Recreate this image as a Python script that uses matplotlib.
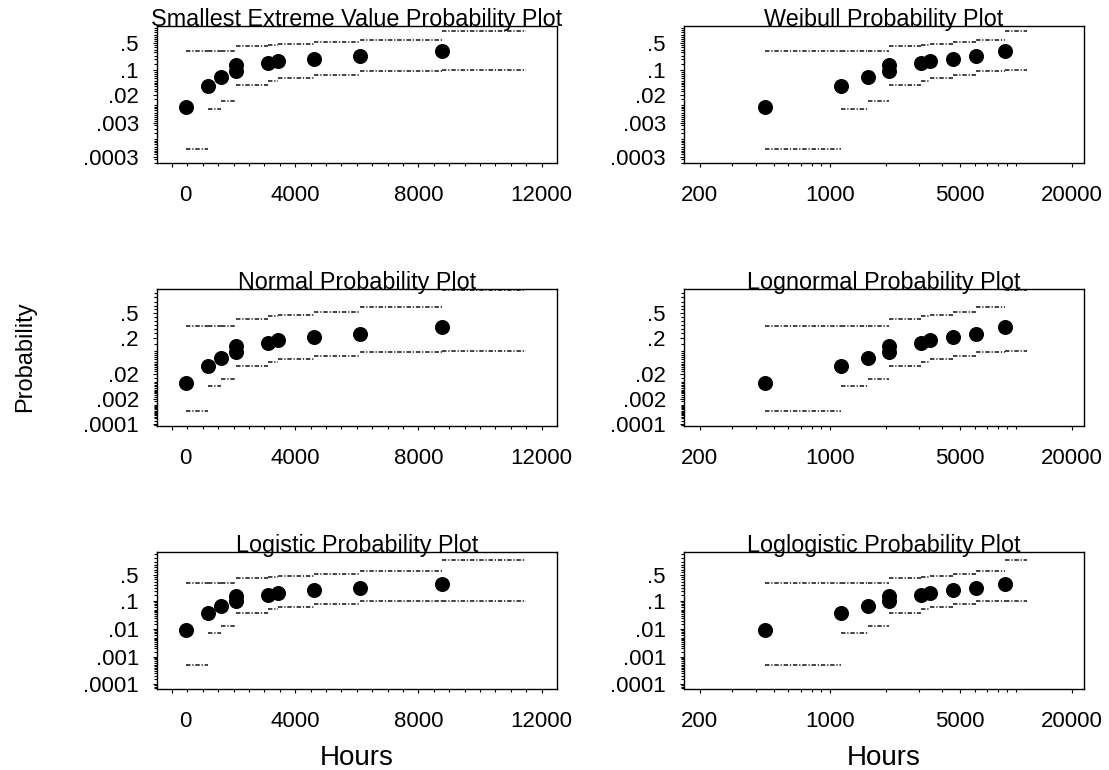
import math
import numpy as np
import matplotlib
matplotlib.use("Agg")
import matplotlib.pyplot as plt
from matplotlib.ticker import FixedLocator, FixedFormatter, NullFormatter

plt.rcParams["font.family"] = ["Liberation Sans", "DejaVu Sans"]
plt.rcParams["lines.scale_dashes"] = False

# Failure times (hours) and their plotting positions
hours = [450, 1150, 1600, 2070, 2080, 3100, 3450, 4600, 6100, 8750]
prob = [0.009, 0.037, 0.066, 0.097, 0.137, 0.157, 0.180, 0.209, 0.245, 0.320]

# Simultaneous confidence band, one step per interval
band_start = [450, 1150, 1600, 2070, 3100, 3450, 4600, 6100, 8750]
band_end = [1150, 1600, 2070, 3100, 3450, 4600, 6100, 8750, 11500]
band_lower = [0.0005, 0.0074, 0.013, 0.038, 0.051, 0.060, 0.075, 0.095, 0.100]
band_upper = [0.33, 0.33, 0.33, 0.42, 0.455, 0.48, 0.52, 0.575, 0.78]

# Probability tick labels for each distribution family
sev_ticks = [0.0003, 0.003, 0.02, 0.1, 0.5]
sev_labels = [".0003", ".003", ".02", ".1", ".5"]
norm_ticks = [0.0001, 0.002, 0.02, 0.2, 0.5]
norm_labels = [".0001", ".002", ".02", ".2", ".5"]
logis_ticks = [0.0001, 0.001, 0.01, 0.1, 0.5]
logis_labels = [".0001", ".001", ".01", ".1", ".5"]

lin_ticks = [0, 4000, 8000, 12000]
lin_labels = ["0", "4000", "8000", "12000"]
log_ticks = [200, 1000, 5000, 20000]
log_labels = ["200", "1000", "5000", "20000"]

EPS = 1e-12


def _clip(p):
    return np.clip(np.asarray(p, dtype=float), EPS, 1 - EPS)


# --- smallest extreme value / Weibull scale
def sev_fwd(p):
    p = _clip(p)
    return np.log(-np.log1p(-p))


def sev_inv(y):
    return -np.expm1(-np.exp(np.asarray(y, dtype=float)))


# --- normal / lognormal scale (Acklam's inverse normal approximation)
_a = [-3.969683028665376e+01, 2.209460984245205e+02, -2.759285104469687e+02,
      1.383577518672690e+02, -3.066479806614716e+01, 2.506628277459239e+00]
_b = [-5.447609879822406e+01, 1.615858368580409e+02, -1.556989798598866e+02,
      6.680131188771972e+01, -1.328068155288572e+01]
_c = [-7.784894002430293e-03, -3.223964580411365e-01, -2.400758277161838e+00,
      -2.549732539343734e+00, 4.374664141464968e+00, 2.938163982698783e+00]
_d = [7.784695709041462e-03, 3.224671290700398e-01, 2.445134137142996e+00,
      3.754408661907416e+00]


def norm_fwd(p):
    p = _clip(p)
    plow = 0.02425
    r = p - 0.5
    r2 = r * r
    num = (((((_a[0] * r2 + _a[1]) * r2 + _a[2]) * r2 + _a[3]) * r2 + _a[4]) * r2 + _a[5]) * r
    den = ((((_b[0] * r2 + _b[1]) * r2 + _b[2]) * r2 + _b[3]) * r2 + _b[4]) * r2 + 1
    central = num / den
    q = np.sqrt(-2 * np.log(np.minimum(p, 1 - p)))
    tail = ((((((_c[0] * q + _c[1]) * q + _c[2]) * q + _c[3]) * q + _c[4]) * q + _c[5])
            / ((((_d[0] * q + _d[1]) * q + _d[2]) * q + _d[3]) * q + 1))
    tail = np.where(p < 0.5, tail, -tail)
    return np.where((p >= plow) & (p <= 1 - plow), central, tail)


_erf = np.vectorize(math.erf, otypes=[float])


def norm_inv(z):
    z = np.asarray(z, dtype=float)
    return 0.5 * (1 + _erf(z / math.sqrt(2)))


# --- logistic / loglogistic scale
def logis_fwd(p):
    p = _clip(p)
    return np.log(p / (1 - p))


def logis_inv(y):
    return 1 / (1 + np.exp(-np.asarray(y, dtype=float)))


families = {
    "sev": dict(funcs=(sev_fwd, sev_inv), ticks=sev_ticks, labels=sev_labels,
                ylim=(1.96e-4, 0.884)),
    "norm": dict(funcs=(norm_fwd, norm_inv), ticks=norm_ticks, labels=norm_labels,
                 ylim=(7.4e-5, 0.791)),
    "logis": dict(funcs=(logis_fwd, logis_inv), ticks=logis_ticks, labels=logis_labels,
                  ylim=(6.6e-5, 0.870)),
}

panels = [
    ("Smallest Extreme Value Probability Plot", "linear", "sev"),
    ("Weibull Probability Plot", "log", "sev"),
    ("Normal Probability Plot", "linear", "norm"),
    ("Lognormal Probability Plot", "log", "norm"),
    ("Logistic Probability Plot", "linear", "logis"),
    ("Loglogistic Probability Plot", "log", "logis"),
]

W, H = 1109, 770
fig = plt.figure(figsize=(W / 100, H / 100), dpi=100)

col_left = [157, 684]
col_width = 400
row_top = [26, 289, 552]
row_height = 137

# dense minor ticks along the probability axis
minor_p = sorted(set([k * 10.0 ** e for e in range(-5, 0) for k in range(1, 10)]
                     + [k * 10.0 ** e for e in range(-5, -1) for k in (1.5, 2.5, 3.5, 4.5)]
                     + [k / 100 for k in range(5, 100, 5)]))

band_style = dict(colors="#111111", linewidth=1.1, linestyles=(0, (3.2, 1.3, 0.9, 1.3)))

for i, (title, xkind, fam) in enumerate(panels):
    r, c = divmod(i, 2)
    left = col_left[c] / W
    bottom = 1 - (row_top[r] + row_height) / H
    ax = fig.add_axes([left, bottom, col_width / W, row_height / H])
    spec = families[fam]

    ax.set_yscale("function", functions=spec["funcs"])
    if xkind == "log":
        ax.set_xscale("log")

    ax.hlines(band_upper, band_start, band_end, **band_style)
    ax.hlines(band_lower, band_start, band_end, **band_style)
    ax.plot(hours, prob, "o", color="black", markersize=9.8, zorder=3)

    ax.set_ylim(*spec["ylim"])
    ax.yaxis.set_major_locator(FixedLocator(spec["ticks"]))
    ax.yaxis.set_major_formatter(FixedFormatter(spec["labels"]))
    lo, hi = spec["ylim"]
    ax.yaxis.set_minor_locator(FixedLocator([v for v in minor_p if lo < v < hi]))
    ax.yaxis.set_minor_formatter(NullFormatter())

    if xkind == "log":
        ax.set_xlim(165, 23200)
        ax.xaxis.set_major_locator(FixedLocator(log_ticks))
        ax.xaxis.set_major_formatter(FixedFormatter(log_labels))
        minor_x = [k * 10.0 ** e for e in range(2, 5) for k in range(1, 10)]
        ax.xaxis.set_minor_locator(FixedLocator([v for v in minor_x if v not in log_ticks]))
    else:
        ax.set_xlim(-490, 12500)
        ax.xaxis.set_major_locator(FixedLocator(lin_ticks))
        ax.xaxis.set_major_formatter(FixedFormatter([""] + lin_labels[1:]))
        ax.xaxis.set_minor_locator(FixedLocator(np.arange(500, 12500, 500)))
        # the zero label sits slightly to the right of its tick
        ax.annotate(lin_labels[0], xy=(0, 0), xycoords=("data", "axes fraction"),
                    xytext=(9.7, -15.5), textcoords="offset points",
                    ha="center", va="top", fontsize=16)
    ax.xaxis.set_minor_formatter(NullFormatter())

    ax.tick_params(axis="both", which="both", direction="out", width=0.8,
                   labelsize=16, color="black")
    ax.tick_params(axis="both", which="major", length=3)
    ax.tick_params(axis="both", which="minor", length=2)
    ax.tick_params(axis="x", which="major", pad=13)
    ax.tick_params(axis="y", which="major", pad=10)

    for s in ax.spines.values():
        s.set_linewidth(1.0)
        s.set_color("black")

    ax.text(0.5, 1.0, title, transform=ax.transAxes, ha="center", va="baseline",
            fontsize=16.8)

    if r == 2:
        fig.text((col_left[c] + col_width / 2) / W, 1 - 765 / H, "Hours",
                 ha="center", va="baseline", fontsize=20)

fig.text(25 / W, 1 - 357 / H, "Probability", rotation=90, ha="center", va="center",
         fontsize=17)

fig.savefig("out.png", dpi=100)
